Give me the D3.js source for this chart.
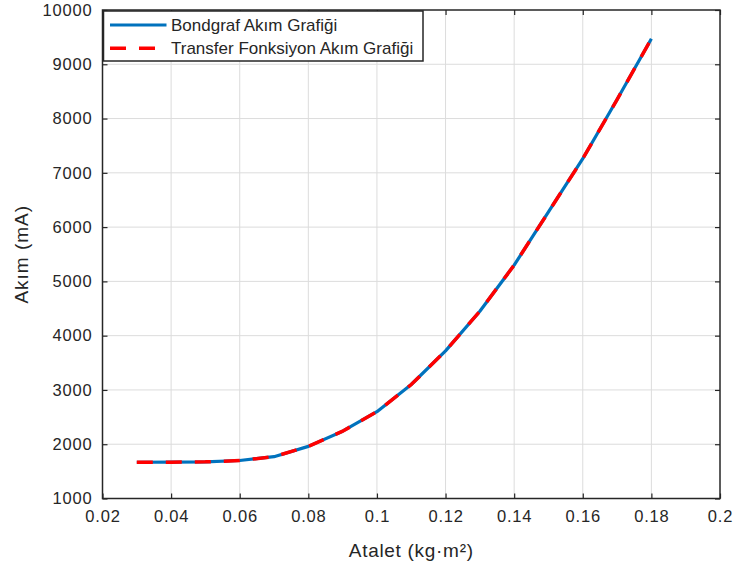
<!DOCTYPE html>
<html><head><meta charset="utf-8">
<script src="https://cdn.jsdelivr.net/npm/d3@7"></script>
<style>
body{margin:0;background:#fff;}
svg text{font-family:"Liberation Sans",Arial,sans-serif;fill:#262626;}
</style></head>
<body><svg id="c" width="736" height="565"></svg>
<script>
const inertia = [0.03,0.04,0.05,0.06,0.07,0.08,0.09,0.10,0.11,0.12,0.13,0.14,0.15,0.16,0.17,0.18];
const bondgraf = [1668,1670,1675,1700,1770,1960,2240,2600,3100,3720,4450,5300,6280,7260,8350,9470];
const transfer = [1668,1670,1675,1700,1770,1960,2240,2600,3100,3720,4450,5300,6280,7260,8350,9470];
const xTicks = [0.02,0.04,0.06,0.08,0.1,0.12,0.14,0.16,0.18,0.2];
const yTicks = [1000,2000,3000,4000,5000,6000,7000,8000,9000,10000];
const seriesNames = ["Bondgraf Akım Grafiği","Transfer Fonksiyon Akım Grafiği"];
const xLabel = "Atalet (kg·m²)";
const yLabel = "Akım (mA)";

const L=102.5, R=720, T=10, B=498.5;
const svg=d3.select("#c");
const x=d3.scaleLinear().domain([0.02,0.2]).range([L,R]);
const y=d3.scaleLinear().domain([1000,10000]).range([B,T]);

// grid
const g=svg.append("g");
g.selectAll(".vx").data(xTicks.slice(1,-1)).enter().append("line")
 .attr("x1",d=>x(d)).attr("x2",d=>x(d)).attr("y1",T).attr("y2",B)
 .attr("stroke","#dcdcdc").attr("stroke-width",1);
g.selectAll(".hy").data(yTicks.slice(1,-1)).enter().append("line")
 .attr("y1",d=>y(d)).attr("y2",d=>y(d)).attr("x1",L).attr("x2",R)
 .attr("stroke","#dcdcdc").attr("stroke-width",1);

// axes
const fmtX=d=>d3.format("")(+d.toFixed(2));
const axB=svg.append("g").attr("transform",`translate(0,${B})`)
 .call(d3.axisBottom(x).tickValues(xTicks).tickSize(-5).tickPadding(12).tickFormat(fmtX));
const axT=svg.append("g").attr("transform",`translate(0,${T})`)
 .call(d3.axisTop(x).tickValues(xTicks).tickSize(-5).tickFormat(""));
const axL=svg.append("g").attr("transform",`translate(${L},0)`)
 .call(d3.axisLeft(y).tickValues(yTicks).tickSize(-5).tickPadding(10).tickFormat(d3.format("d")));
const axR=svg.append("g").attr("transform",`translate(${R},0)`)
 .call(d3.axisRight(y).tickValues(yTicks).tickSize(-5).tickFormat(""));
[axB,axT,axL,axR].forEach(a=>{
  a.select(".domain").remove();
  a.selectAll(".tick line").attr("stroke","#262626").attr("stroke-width",1.2);
  a.selectAll("text").style("font-size","16.5px").style("letter-spacing","0.8px").attr("fill","#262626");
});
axB.selectAll("text").attr("dy","0.71em");
svg.append("rect").attr("x",L).attr("y",T).attr("width",R-L).attr("height",B-T)
 .attr("fill","none").attr("stroke","#262626").attr("stroke-width",1.5);

// lines
const line=d3.line().x((d,i)=>x(inertia[i])).y(d=>y(d));
svg.append("path").datum(bondgraf).attr("d",line).attr("fill","none")
 .attr("stroke","#0072BD").attr("stroke-width",3.2).attr("stroke-linejoin","round");
svg.append("path").datum(transfer).attr("d",line).attr("fill","none")
 .attr("stroke","#FF0000").attr("stroke-width",3.5).attr("stroke-dasharray","16,13");

// labels
svg.append("text").attr("x",(L+R)/2).attr("y",557).attr("text-anchor","middle")
 .style("font-size","19px").style("letter-spacing","0.7px").text(xLabel);
svg.append("text").attr("transform",`translate(28,${(T+B)/2}) rotate(-90)`).attr("text-anchor","middle")
 .style("font-size","19px").style("letter-spacing","1px").text(yLabel);

// legend
const lg=svg.append("g");
lg.append("rect").attr("x",103.5).attr("y",11).attr("width",319.5).attr("height",50)
 .attr("fill","#fff").attr("stroke","#262626").attr("stroke-width",1.5);
const rows=[{c:"#0072BD",dash:null,w:3.2},{c:"#FF0000",dash:"16,13",w:3.5}];
rows.forEach((r,i)=>{
  const yy=25+i*23.3;
  lg.append("line").attr("x1",110).attr("x2",166.5).attr("y1",yy).attr("y2",yy)
   .attr("stroke",r.c).attr("stroke-width",r.w).attr("stroke-dasharray",r.dash);
  lg.append("text").attr("x",171).attr("y",yy).attr("dy","0.36em")
   .style("font-size","17px").text(seriesNames[i]);
});
</script></body></html>
